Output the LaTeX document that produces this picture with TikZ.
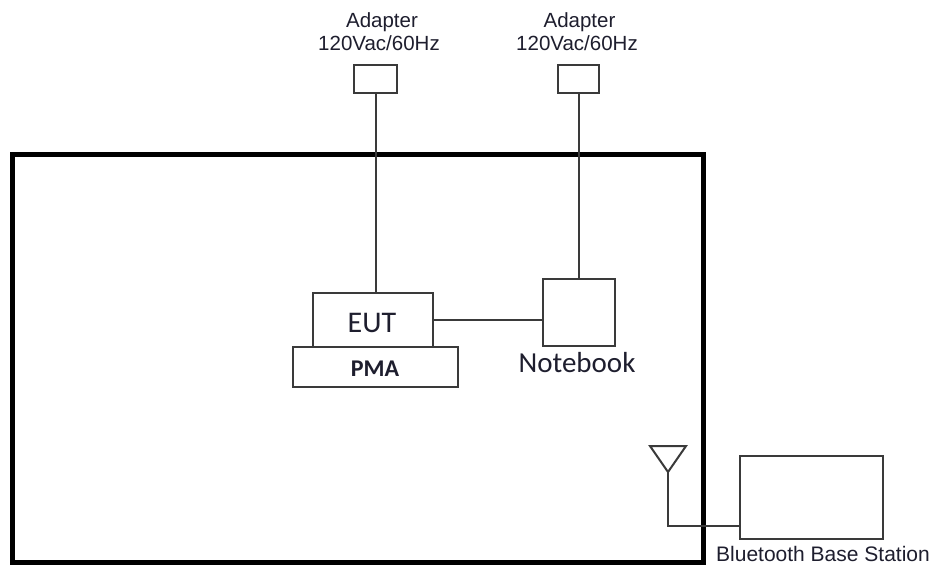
\documentclass[tikz,border=0pt]{standalone}
\usepackage{fontspec}
\setmainfont{Liberation Sans}
\newfontfamily\calib{Carlito}
\definecolor{linegray}{HTML}{3A3A3A}
\definecolor{txtdark}{HTML}{1E1E2E}
\begin{document}
\begin{tikzpicture}[x=1pt,y=-1pt,
  thinbox/.style={draw=linegray,line width=2pt,inner sep=0pt,fill=white},
  wire/.style={draw=linegray,line width=2pt},
  small/.style={inner sep=0pt,text=txtdark,anchor=base,font=\fontsize{20.5}{24}\selectfont},
  big/.style={inner sep=0pt,text=txtdark,font=\calib\fontsize{30}{34}\selectfont}]
\useasboundingbox (0,0) rectangle (937,566);
% enclosure
\draw[line width=5pt,black] (12,154) rectangle (703,562);
% adapters
\node[small] (lat1) at (382,27) {Adapter};
\node[small] (lat2) at (379,50) {120Vac/60Hz};
\node[small] (rat1) at (579.5,27) {Adapter};
\node[small] (rat2) at (577,50) {120Vac/60Hz};
\node[thinbox,minimum width=43pt,minimum height=28pt] (la) at (375.5,79) {};
\node[thinbox,minimum width=41pt,minimum height=28pt] (ra) at (578.5,79) {};
% equipment
\node[thinbox,minimum width=165pt,minimum height=40pt] (pma) at (375.5,367) {};
\node[thinbox,minimum width=120pt,minimum height=54pt] (eut) at (373,320) {};
\node[thinbox,minimum width=72pt,minimum height=67pt] (nb) at (579,312.5) {};
\node[big] (euttxt) at (372,323) {EUT};
\node[inner sep=0pt,text=txtdark,font=\calib\bfseries\fontsize{24}{30}\selectfont] (pmatxt) at (375,369) {PMA};
\node[big,anchor=base,font=\calib\fontsize{29}{34}\selectfont] (nbtxt) at (577,372) {Notebook};
% base station
\node[thinbox,minimum width=143pt,minimum height=83pt] (bs) at (811.5,497.5) {};
\node[small,font=\fontsize{21}{24}\selectfont] (bstxt) at (823,561) {Bluetooth Base Station};
% antenna
\coordinate (apex) at (668,472);
\coordinate (bend) at (668,526);
\draw[wire,line join=miter] (650,446) -- (686,446) -- (apex) -- cycle;
% connectors
\draw[wire] (la.south) -- (la.south |- eut.north);
\draw[wire] (ra.south) -- (ra.south |- nb.north);
\draw[wire] (eut.east) -- (eut.east -| nb.west);
\draw[wire] (apex) -- (bend) -- (bend -| bs.west);
\end{tikzpicture}
\end{document}
